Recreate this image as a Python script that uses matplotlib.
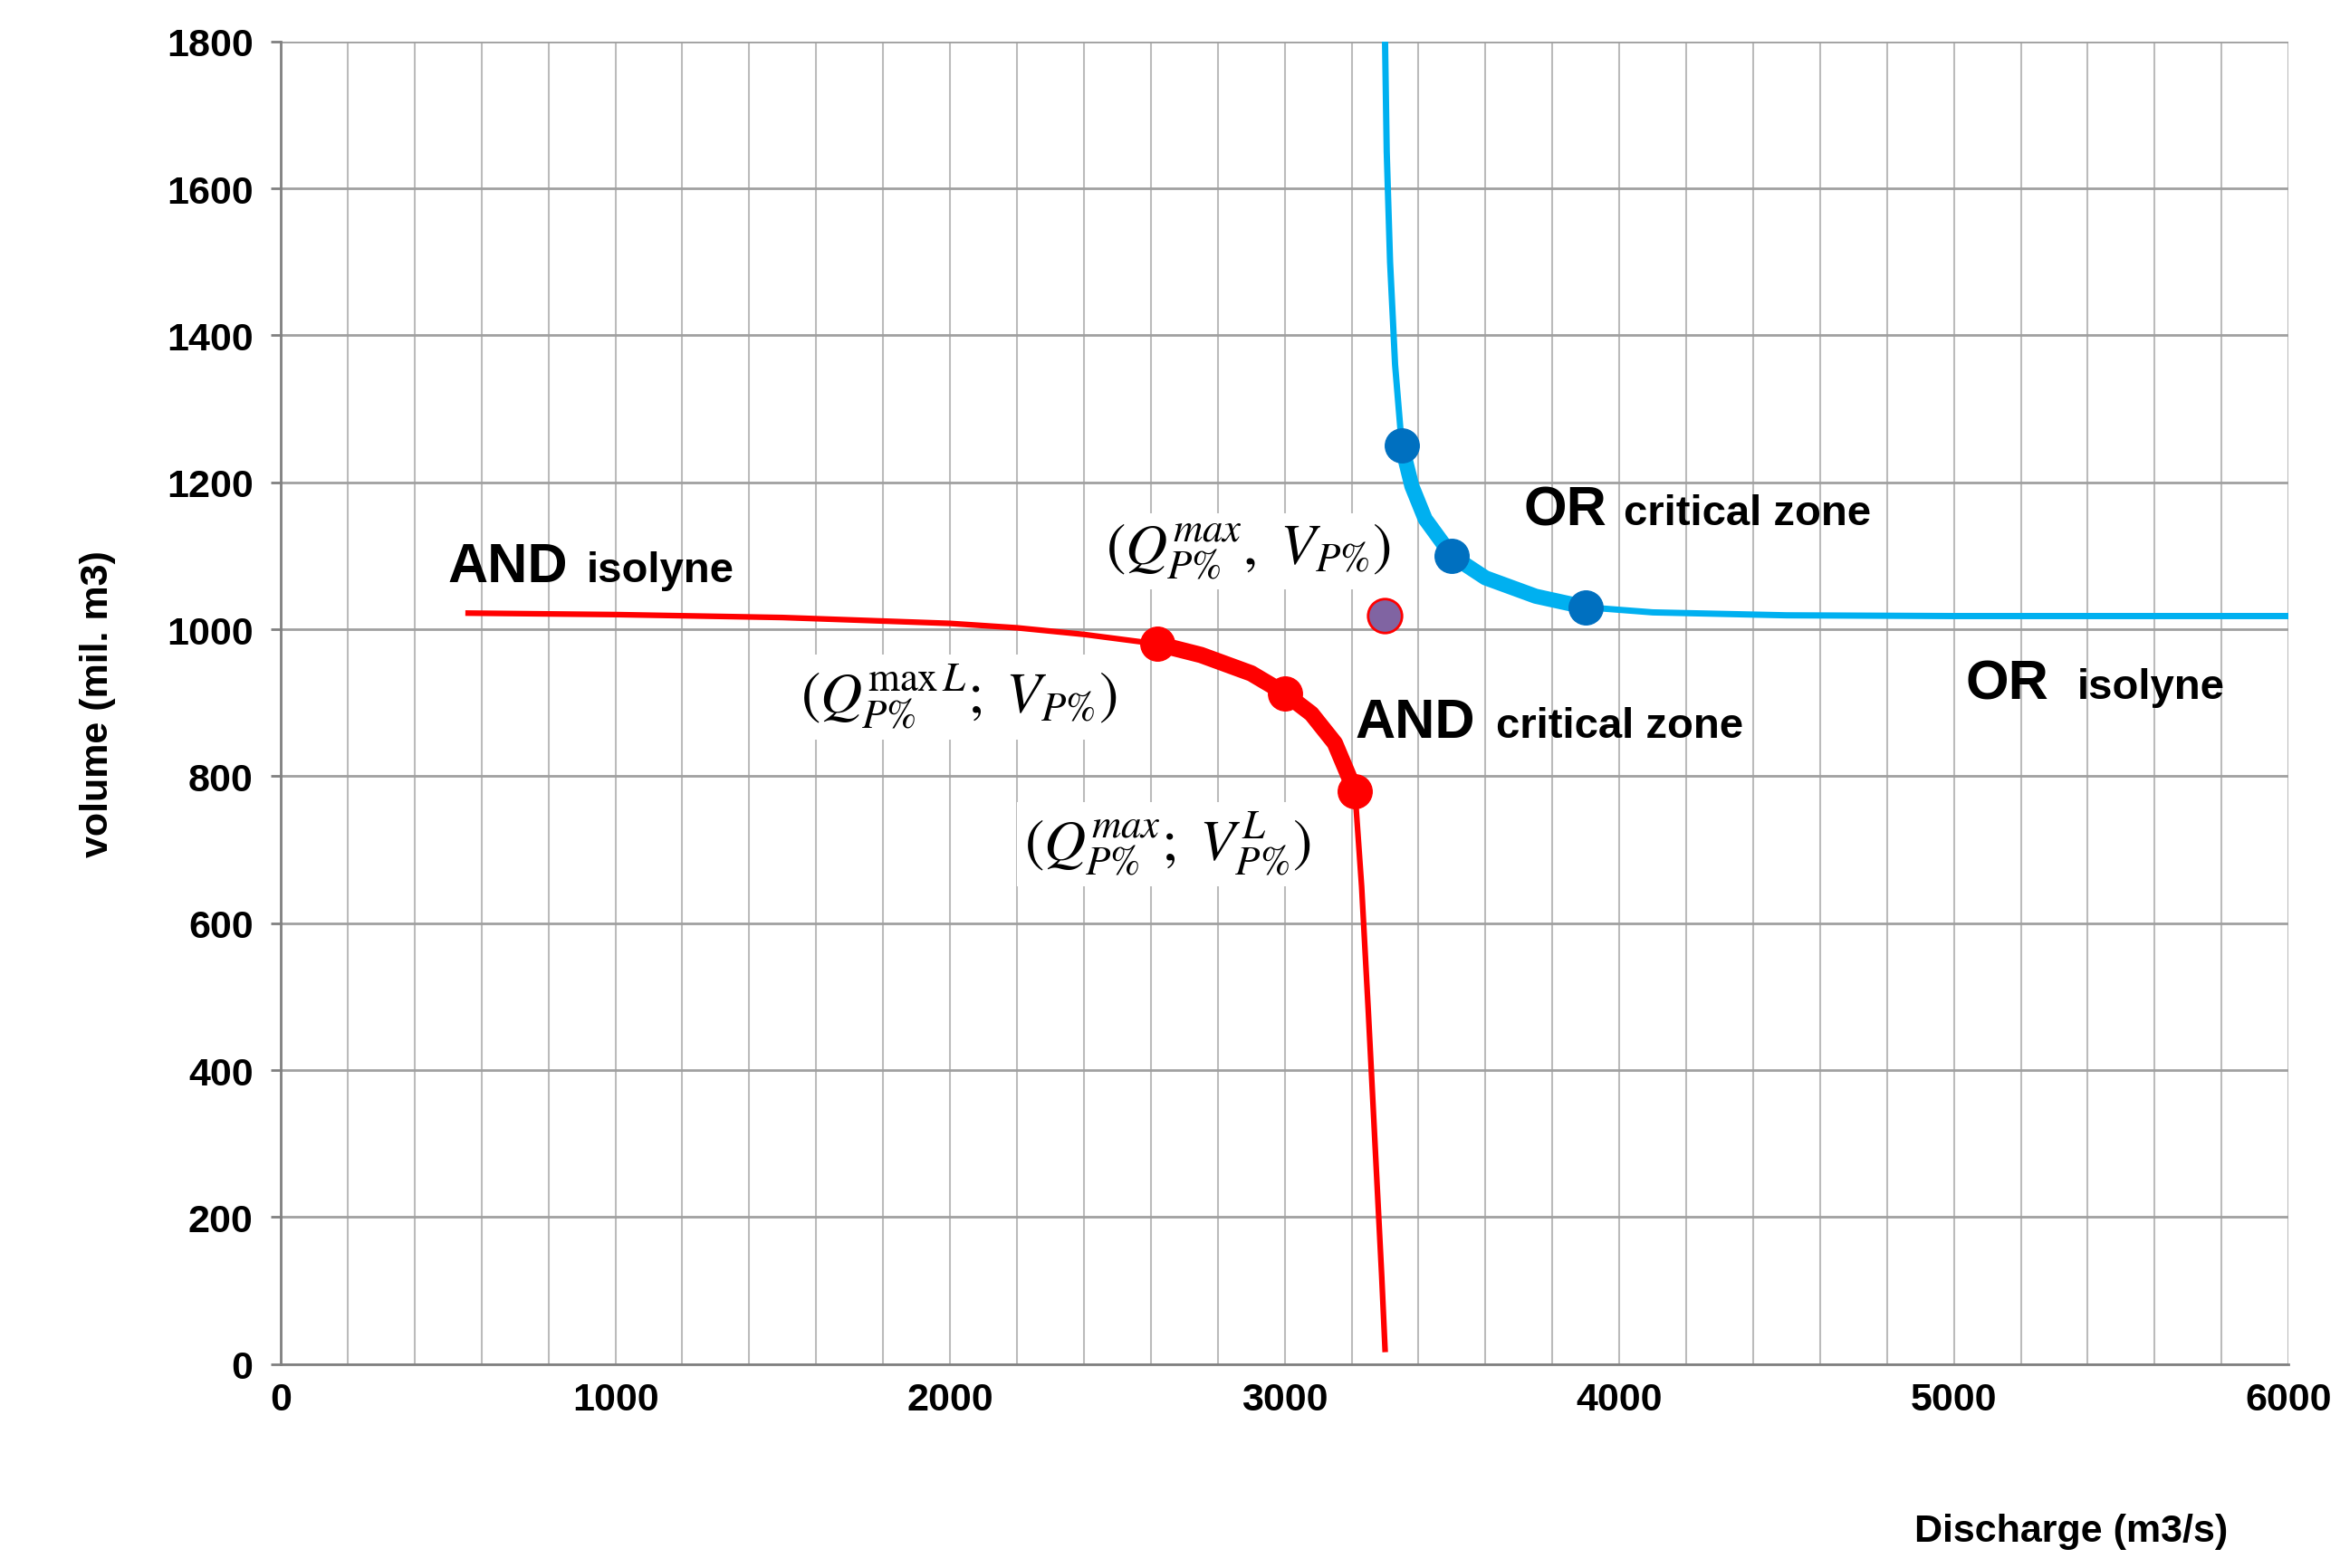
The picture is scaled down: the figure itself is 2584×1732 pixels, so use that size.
import matplotlib
matplotlib.use("Agg")
import matplotlib.pyplot as plt
import numpy as np

plt.rcParams['font.family'] = ['Liberation Sans', 'DejaVu Sans']
plt.rcParams['mathtext.fontset'] = 'stix'

and_q = [560, 1000, 1500, 2000, 2200, 2400, 2620, 2750, 2900, 3000, 3080, 3150, 3210, 3230, 3250, 3270, 3290, 3300]
and_v = [1022, 1020, 1016, 1008, 1002, 993, 980, 965, 940, 913, 885, 845, 780, 650, 480, 300, 120, 20]
and_crit_q = [2620, 2750, 2900, 3000, 3080, 3150, 3210]
and_crit_v = [980, 965, 940, 913, 885, 845, 780]
and_pts_q = [2620, 3000, 3210]
and_pts_v = [980, 913, 780]

or_q = [3300, 3305, 3315, 3330, 3350, 3380, 3420, 3500, 3600, 3750, 3900, 4100, 4500, 5000, 6000]
or_v = [1800, 1650, 1500, 1360, 1250, 1195, 1150, 1100, 1070, 1045, 1030, 1023, 1019, 1018, 1018]
or_crit_q = [3350, 3380, 3420, 3500, 3600, 3750, 3900]
or_crit_v = [1250, 1195, 1150, 1100, 1070, 1045, 1030]
or_pts_q = [3350, 3500, 3900]
or_pts_v = [1250, 1100, 1030]

mid_q, mid_v = 3300, 1018

fig = plt.figure(figsize=(25.84, 17.33), dpi=100)
ax = fig.add_axes([0.120, 0.130, 0.858, 0.843])
ax.set_xlim(0, 6000)
ax.set_ylim(0, 1800)
ax.set_xticks(np.arange(0, 6001, 1000))
ax.set_xticks(np.arange(0, 6001, 200), minor=True)
ax.set_yticks(np.arange(0, 1801, 200))
ax.grid(True, which='major', axis='y', color='#a0a0a0', lw=2)
ax.grid(True, which='both', axis='x', color='#bbbbbb', lw=1.5)
ax.set_axisbelow(True)
for s in ['top', 'right']:
    ax.spines[s].set_visible(False)
for s in ['left', 'bottom']:
    ax.spines[s].set_color('#808080')
    ax.spines[s].set_linewidth(2)
ax.tick_params(which='both', axis='x', length=0)
ax.tick_params(axis='y', length=8, width=2, color='#808080')
ax.tick_params(labelsize=31, pad=14)
for lab in ax.get_xticklabels() + ax.get_yticklabels():
    lab.set_fontweight('bold')

ax.plot(and_q, and_v, color='#ff0000', lw=4.5)
ax.plot(and_crit_q, and_crit_v, color='#ff0000', lw=13, solid_capstyle='round', solid_joinstyle='round')
ax.plot(and_pts_q, and_pts_v, 'o', color='#ff0000', ms=27)
ax.plot(or_q, or_v, color='#00b0f0', lw=5, solid_joinstyle='round')
ax.plot(or_crit_q, or_crit_v, color='#00b0f0', lw=12, solid_capstyle='round', solid_joinstyle='round')
ax.plot(or_pts_q, or_pts_v, 'o', color='#0070c0', ms=27)
ax.plot([mid_q], [mid_v], 'o', color='#8064a2', mec='#ff0000', mew=2, ms=27)

tk = dict(va='baseline', fontweight='bold')
ax.text(500, 1065, 'AND', fontsize=44, **tk)
ax.text(915, 1065, 'isolyne', fontsize=34, **tk)
ax.text(3713, 1143, 'OR', fontsize=44, **tk)
ax.text(4013, 1143, 'critical zone', fontsize=34, **tk)
ax.text(3211, 853, 'AND', fontsize=44, **tk)
ax.text(3632, 853, 'critical zone', fontsize=34, **tk)
ax.text(5036, 906, 'OR', fontsize=44, **tk)
ax.text(5368, 906, 'isolyne', fontsize=34, **tk)

bb = dict(facecolor='white', edgecolor='none', pad=6)
ax.text(2892, 1106, r'$(Q_{P\%}^{max},\ V_{P\%})$', fontsize=46, ha='center', va='center', bbox=bb)
ax.text(2027, 908, r'$(Q_{P\%}^{\mathrm{max}\,L};\ V_{P\%})$', fontsize=46, ha='center', va='center', bbox=bb)
ax.text(2650, 708, r'$(Q_{P\%}^{max};\ V_{P\%}^{L})$', fontsize=46, ha='center', va='center', bbox=bb)

ax.set_ylabel('volume (mil. m3)', fontsize=31, fontweight='bold', labelpad=40)
fig.text(0.952, 0.012, 'Discharge (m3/s)', fontsize=31, fontweight='bold', ha='right', va='bottom')

fig.savefig('out.png', dpi=100, facecolor='white')
